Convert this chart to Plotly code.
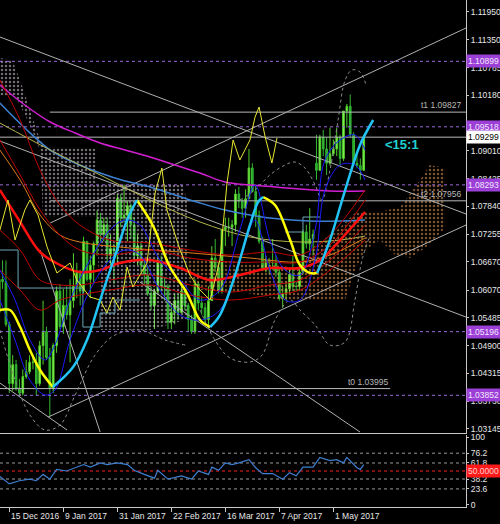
import plotly.graph_objects as go

# ---------------- price data (daily bars) ----------------
opens = [1.0560,1.0630,1.0625,1.0535,1.0410,1.0450,1.0400,1.0390,1.0425,1.0435,
         1.0455,1.0455,1.0410,1.0490,1.0520,1.0465,1.0400,1.0490,1.0605,1.0530,
         1.0575,1.0555,1.0585,1.0615,1.0645,1.0605,1.0710,1.0630,1.0660,1.0705,
         1.0755,1.0725,1.0745,1.0680,1.0695,1.0690,1.0800,1.0760,1.0765,1.0785,
         1.0745,1.0680,1.0700,1.0660,1.0640,1.0600,1.0575,1.0605,1.0670,1.0615,
         1.0615,1.0540,1.0560,1.0585,1.0560,1.0605,1.0575,1.0545,1.0520,1.0620,
         1.0580,1.0570,1.0545,1.0585,1.0675,1.0655,1.0605,1.0735,1.0740,1.0740,
         1.0745,1.0810,1.0795,1.0780,1.0800,1.0865,1.0815,1.0765,1.0710,1.0650,
         1.0670,1.0665,1.0665,1.0645,1.0590,1.0600,1.0610,1.0640,1.0615,1.0615,
         1.0645,1.0730,1.0705,1.0715,1.0875,1.0860,1.0930,1.0905,1.0875,1.0895,
         1.0905,1.0930,1.0885,1.0985,1.0995,1.0935,1.0875,1.0870,1.0860]
highs = [1.0640,1.0670,1.0670,1.0540,1.0470,1.0460,1.0420,1.0440,1.0460,1.0470,
         1.0470,1.0475,1.0500,1.0585,1.0530,1.0485,1.0495,1.0615,1.0620,1.0610,
         1.0615,1.0630,1.0685,1.0665,1.0650,1.0720,1.0710,1.0680,1.0710,1.0775,
         1.0770,1.0760,1.0760,1.0725,1.0705,1.0810,1.0810,1.0830,1.0795,1.0790,
         1.0760,1.0725,1.0710,1.0670,1.0660,1.0615,1.0610,1.0680,1.0680,1.0635,
         1.0620,1.0580,1.0600,1.0600,1.0615,1.0615,1.0580,1.0555,1.0630,1.0625,
         1.0595,1.0580,1.0615,1.0700,1.0715,1.0665,1.0735,1.0760,1.0760,1.0755,
         1.0820,1.0825,1.0800,1.0820,1.0905,1.0875,1.0830,1.0775,1.0720,1.0680,
         1.0675,1.0715,1.0680,1.0655,1.0615,1.0625,1.0650,1.0680,1.0625,1.0660,
         1.0735,1.0745,1.0780,1.0735,1.0935,1.0935,1.0945,1.0930,1.0950,1.0925,
         1.0950,1.0935,1.0985,1.1000,1.1020,1.0940,1.0895,1.0885,1.0935]
lows = [1.0530,1.0610,1.0530,1.0390,1.0395,1.0395,1.0385,1.0385,1.0420,1.0430,
        1.0440,1.0385,1.0405,1.0450,1.0460,1.0340,1.0390,1.0475,1.0525,1.0515,
        1.0545,1.0455,1.0570,1.0590,1.0575,1.0600,1.0625,1.0590,1.0620,1.0680,
        1.0710,1.0710,1.0665,1.0660,1.0620,1.0665,1.0740,1.0750,1.0710,1.0715,
        1.0665,1.0660,1.0645,1.0620,1.0595,1.0565,1.0525,1.0600,1.0605,1.0585,
        1.0525,1.0525,1.0535,1.0545,1.0560,1.0565,1.0520,1.0515,1.0515,1.0565,
        1.0555,1.0535,1.0525,1.0585,1.0645,1.0600,1.0600,1.0700,1.0720,1.0700,
        1.0730,1.0780,1.0760,1.0760,1.0800,1.0815,1.0740,1.0705,1.0650,1.0645,
        1.0640,1.0650,1.0635,1.0585,1.0570,1.0585,1.0600,1.0605,1.0605,1.0605,
        1.0640,1.0695,1.0690,1.0680,1.0840,1.0860,1.0890,1.0850,1.0870,1.0890,
        1.0890,1.0870,1.0880,1.0950,1.0930,1.0870,1.0865,1.0840,1.0860]
closes = [1.0630,1.0625,1.0535,1.0410,1.0450,1.0400,1.0390,1.0425,1.0435,1.0455,
          1.0455,1.0410,1.0490,1.0520,1.0465,1.0400,1.0490,1.0605,1.0530,1.0575,
          1.0555,1.0585,1.0615,1.0645,1.0605,1.0710,1.0630,1.0660,1.0705,1.0755,
          1.0725,1.0745,1.0680,1.0695,1.0690,1.0800,1.0760,1.0765,1.0785,1.0745,
          1.0680,1.0700,1.0660,1.0640,1.0600,1.0575,1.0605,1.0670,1.0615,1.0615,
          1.0540,1.0560,1.0585,1.0560,1.0605,1.0575,1.0545,1.0520,1.0620,1.0580,
          1.0570,1.0545,1.0585,1.0675,1.0655,1.0605,1.0735,1.0740,1.0740,1.0745,
          1.0810,1.0795,1.0780,1.0800,1.0865,1.0815,1.0765,1.0710,1.0650,1.0670,
          1.0665,1.0665,1.0645,1.0590,1.0600,1.0610,1.0640,1.0615,1.0615,1.0645,
          1.0730,1.0705,1.0715,1.0725,1.0860,1.0930,1.0905,1.0875,1.0895,1.0905,
          1.0930,1.0885,1.0985,1.0995,1.0935,1.0875,1.0870,1.0860,1.0930]
bars = list(range(len(opens)))

date_tick_bars = [3, 19, 35, 51, 67, 83, 99]
date_tick_labels = ["15 Dec 2016", "9 Jan 2017", "31 Jan 2017", "22 Feb 2017",
                    "16 Mar 2017", "7 Apr 2017", "1 May 2017"]

# right-axis price ticks (1.09595 is hidden behind a level label in the original)
price_ticks = [1.11950, 1.11350, 1.10765, 1.10180, 1.09010, 1.08425, 1.07840,
               1.07255, 1.06670, 1.06070, 1.05485, 1.04900, 1.04315, 1.03730, 1.03145]

purple_levels = [1.10899, 1.09518, 1.08293, 1.05196, 1.03852]
bid_price = 1.09299
t1_level, t1_start = 1.09827, 15.0
t2_level, t2_start = 1.07956, 15.0
t0_level, t0_end = 1.03995, 115.8

# trend lines: (bar0, price0, bar1, price1)
trend_lines = [
    (0.2, 1.11413, 138.3, 1.07678),
    (0.2, 1.09218, 138.3, 1.05504),
    (14.5, 1.03394, 138.3, 1.07446),
    (15.1, 1.07488, 138.3, 1.11602),
    (41.7, 1.06243, 106.9, 1.03078),
    (12.1, 1.06918, 29.9, 1.03078),
    (0.2, 1.04112, 20.1, 1.03120),
]

# Ichimoku: kijun steps and cloud spans
kijun_a_x = [0.2, 5.6, 5.6, 24.8, 24.8, 29.9, 29.9, 34.3, 34.3, 41.7]
kijun_a_y = [1.06918, 1.06918, 1.06116, 1.06116, 1.05293, 1.05293, 1.05589, 1.05589, 1.05863, 1.05863]
kijun_b_x = [84.7, 90.0, 90.0, 95.1]
kijun_b_y = [1.07298, 1.07298, 1.07614, 1.07614]
thistle_top_x = [0.2, 3.8, 6.2, 9.1, 12.1, 13.6, 28.4, 29.0, 54.5, 55.6]
thistle_top_y = [1.10969, 1.10927, 1.10505, 1.09872, 1.09239, 1.09091, 1.09070, 1.08332, 1.08290, 1.07973]
thistle_bot_x = [0.2, 4.7, 9.1, 12.1, 13.0, 29.0, 29.9, 44.7, 55.1, 55.6]
thistle_bot_y = [1.10188, 1.10188, 1.09555, 1.09028, 1.07614, 1.07614, 1.05230, 1.05230, 1.05441, 1.05441]
sandy_top_x = [55.6, 72.2, 89.1, 93.6, 99.5, 105.4, 112.8, 118.8, 124.7, 127.6, 132.1]
sandy_top_y = [1.06749, 1.06665, 1.06538, 1.07024, 1.07298, 1.07699, 1.07720, 1.07826, 1.08395, 1.08712, 1.08648]
sandy_bot_x = [55.6, 59.5, 72.2, 83.2, 95.1, 102.5, 105.4, 108.4, 112.8, 117.3, 121.7, 126.2, 132.1]
sandy_bot_y = [1.06285, 1.06074, 1.06032, 1.05863, 1.05863, 1.05863, 1.06496, 1.06918, 1.07129, 1.06813, 1.06749, 1.06960, 1.07382]

# moving averages
ma_magenta_x = [0.2, 7.6, 15.1, 22.5, 29.9, 37.3, 44.7, 52.1, 59.5, 66.9, 74.3, 81.7, 89.1, 98.0, 108.4]
ma_magenta_y = [1.10400, 1.09978, 1.09619, 1.09387, 1.09176, 1.09028, 1.08880, 1.08712, 1.08543, 1.08353, 1.08290, 1.08248, 1.08205, 1.08163, 1.08163]
ma_steel_x = [0.2, 7.6, 15.1, 22.5, 29.9, 37.3, 44.7, 52.1, 59.5, 66.9, 74.3, 83.2, 92.1, 101.0, 108.4]
ma_steel_y = [1.10020, 1.09492, 1.09028, 1.08754, 1.08543, 1.08374, 1.08248, 1.08079, 1.07910, 1.07762, 1.07657, 1.07572, 1.07530, 1.07530, 1.07551]
ma_khaki_x = [0.2, 15.1, 29.9, 44.7, 59.5, 74.3, 89.1, 101.0, 108.4]
ma_khaki_y = [1.09598, 1.09028, 1.08501, 1.07973, 1.07509, 1.07193, 1.07087, 1.07129, 1.07213]
ma_orange_x = [0.2, 6.2, 12.1, 18.0, 23.9, 38.8, 53.6, 74.3, 89.1, 98.0, 108.4]
ma_orange_y = [1.09028, 1.08395, 1.07657, 1.07235, 1.07087, 1.06960, 1.06876, 1.06749, 1.06665, 1.06813, 1.07171]
red_main_x = [0.2, 6.2, 12.1, 18.0, 23.9, 29.9, 35.8, 44.7, 53.6, 62.5, 71.3, 80.2, 89.1, 95.1, 101.0, 108.4]
red_main_y = [1.08184, 1.07509, 1.06876, 1.06602, 1.06454, 1.06496, 1.06644, 1.06707, 1.06538, 1.06285, 1.06391, 1.06538, 1.06538, 1.06707, 1.07129, 1.07720]
red_thin_x = [0.2, 6.2, 12.1, 18.0, 23.9, 32.8, 44.7, 56.5, 68.4, 80.2, 89.1, 98.0, 108.4]
red_thin_1 = [1.09239, 1.08501, 1.07762, 1.07235, 1.06918, 1.06813, 1.06918, 1.06749, 1.06665, 1.06665, 1.06665, 1.07024, 1.07973]
red_thin_2 = [1.07340, 1.06918, 1.06285, 1.06180, 1.06180, 1.06285, 1.06391, 1.06180, 1.06032, 1.06180, 1.06285, 1.06707, 1.07446]
red_thin_3 = [1.10505, 1.09661, 1.08606, 1.07868, 1.07446, 1.07129, 1.07066, 1.06918, 1.06813, 1.06876, 1.06813, 1.07235, 1.08184]
red_thin_4 = [1.06496, 1.06074, 1.05652, 1.05863, 1.05969, 1.06074, 1.06180, 1.05969, 1.05863, 1.05969, 1.06074, 1.06496, 1.07129]
blue_x = [0.2, 4.7, 9.1, 13.6, 16.5, 21.0, 26.9, 32.8, 37.3, 41.7, 47.6, 53.6, 59.5, 65.4, 71.3, 75.8, 80.2, 84.7, 89.1, 93.6, 96.5, 101.0, 105.4, 108.4]
blue_upper = [1.06496, 1.05863, 1.05019, 1.04597, 1.04913, 1.05863, 1.06707, 1.07340, 1.07551, 1.07446, 1.06707, 1.06285, 1.05863, 1.06074, 1.07340, 1.08288, 1.07129, 1.06496, 1.06391, 1.07340, 1.08817, 1.09239, 1.09344, 1.09028]
blue_lower = [1.05863, 1.05019, 1.04173, 1.03859, 1.03964, 1.05019, 1.06074, 1.06707, 1.06918, 1.06813, 1.06074, 1.05547, 1.05441, 1.05652, 1.06707, 1.07551, 1.06496, 1.05863, 1.05863, 1.06707, 1.08184, 1.08712, 1.08712, 1.08395]
thin_yellow_x = [0.2, 2.6, 4.7, 7.6, 9.1, 11.5, 14.2, 17.1, 21.0, 23.0, 26.9, 29.9, 31.9, 33.7, 35.8, 37.9, 39.6, 43.8, 46.2, 48.2, 49.7, 53.6, 56.5, 59.5, 62.5, 65.4, 67.5, 69.3, 71.3, 74.3, 75.8, 77.0, 78.8, 80.8, 82.3]
thin_yellow_y = [1.07340, 1.07973, 1.07129, 1.07762, 1.07973, 1.07657, 1.06981, 1.06433, 1.06644, 1.06285, 1.05926, 1.05863, 1.05589, 1.05926, 1.05652, 1.06559, 1.06137, 1.06644, 1.08121, 1.08648, 1.07762, 1.06918, 1.06391, 1.06074, 1.05863, 1.06707, 1.08332, 1.09239, 1.08817, 1.09239, 1.09724, 1.09935, 1.09302, 1.08754, 1.09281]
# coloured smoothed average: falling (yellow) / rising (sky blue) legs
hull_yellow = [
    ([0.2, 3.2, 6.2, 9.1, 12.1, 15.9], [1.05652, 1.05652, 1.05294, 1.04808, 1.04386, 1.04027]),
    ([40.8, 45.6, 50.6, 55.6, 59.5, 62.5], [1.07973, 1.07425, 1.06559, 1.06011, 1.05441, 1.05294]),
    ([78.2, 81.7, 86.2, 89.1, 92.1, 94.2], [1.08036, 1.07868, 1.07129, 1.06602, 1.06433, 1.06433]),
]
hull_cyan = [
    ([15.9, 21.9, 26.0, 29.9, 34.9, 37.9, 40.8], [1.04027, 1.04449, 1.05019, 1.05863, 1.06918, 1.07551, 1.07973]),
    ([62.5, 65.4, 69.9, 74.3, 76.7, 78.2], [1.05294, 1.05547, 1.06391, 1.07446, 1.07931, 1.08036]),
    ([94.2, 98.0, 102.5, 106.9, 110.8], [1.06433, 1.07129, 1.08184, 1.09134, 1.09661]),
]
band_upper_x = [71.3, 75.8, 80.2, 84.7, 87.6, 90.6, 93.6, 95.6, 98.0, 100.4, 102.5, 104.5, 106.9, 108.7]
band_upper_y = [1.07973, 1.08184, 1.08501, 1.08712, 1.08775, 1.08648, 1.08290, 1.07973, 1.08606, 1.09661, 1.10505, 1.10716, 1.10674, 1.10400]
band_lower_x = [59.5, 63.9, 68.4, 74.3, 77.9, 81.7, 86.2, 89.1, 93.6, 98.0, 102.5, 105.4, 107.5, 109.9]
band_lower_y = [1.05652, 1.05019, 1.04639, 1.04555, 1.04703, 1.05441, 1.05863, 1.05652, 1.05336, 1.04913, 1.04977, 1.05863, 1.06707, 1.07235]
band_lower2_x = [0.2, 4.7, 9.1, 13.6, 18.0, 22.5, 28.4, 34.3, 41.7, 49.1, 55.1]
band_lower2_y = [1.05230, 1.04175, 1.03437, 1.03120, 1.03226, 1.03859, 1.04702, 1.05124, 1.05230, 1.05019, 1.04913]

# oscillator (sub window)
osc_x = [0, 3, 6, 9, 11, 13, 15, 17, 20, 24, 25, 27, 30, 32, 35, 38, 40, 43, 46, 47, 50, 54, 57, 59,
         62, 63, 65, 67, 69, 71, 74, 76, 78, 81, 84, 86, 88, 90, 93, 95, 98, 100, 102, 103, 106, 107, 108]
osc_y = [42.9, 31, 35.7, 38, 35.7, 45, 38, 52.4, 50, 57, 59.5, 55.7, 62, 59.5, 62, 59.5, 51, 45, 39.5, 51,
         38, 42.9, 38, 50, 45, 55.7, 51, 62, 59.5, 62, 66.7, 54.8, 46.2, 46.2, 38, 47.6, 42.9, 55.7, 55.7,
         70, 65.2, 66.7, 62, 70, 54.8, 52.4, 59.5]
osc_levels = [76.2, 61.8, 38.2, 23.6]
osc_mid = 50
osc_ticks = [0, 23.6, 38.2, 61.8, 76.2, 100]

# ---------------- figure ----------------
FONT = "Liberation Sans, Arial, sans-serif"
FS = 8.5
X_RANGE = [0.24, 138.3]
Y_RANGE = [1.03058, 1.12193]

fig = go.Figure()
M = dict(xaxis="x", yaxis="y", hoverinfo="skip", showlegend=False)

def line(x, y, color, width=1, dash="solid", shape="linear", **kw):
    fig.add_trace(go.Scatter(x=x, y=y, mode="lines",
                             line=dict(color=color, width=width, dash=dash, shape=shape,
                                       smoothing=1.0 if shape == "spline" else None), **M, **kw))

def cloud(tx, ty, bx, by, color):
    fig.add_trace(go.Scatter(
        x=tx + bx[::-1], y=ty + by[::-1], mode="lines", fill="toself",
        line=dict(width=0, color="rgba(0,0,0,0)"), fillcolor="rgba(0,0,0,0)",
        fillpattern=dict(shape=".", fgcolor=color, bgcolor="rgba(0,0,0,0)", size=4, solidity=0.3),
        **M))

fig.add_trace(go.Candlestick(
    x=bars, open=opens, high=highs, low=lows, close=closes,
    increasing=dict(line=dict(color="#4fd12a", width=1), fillcolor="#93f55e"),
    decreasing=dict(line=dict(color="#33b833", width=1), fillcolor="#2aa52a"),
    whiskerwidth=0, xaxis="x", yaxis="y", hoverinfo="skip", showlegend=False))

cloud(thistle_top_x, thistle_top_y, thistle_bot_x, thistle_bot_y, "#e6d6e6")
cloud(sandy_top_x, sandy_top_y, sandy_bot_x, sandy_bot_y, "#f4a460")

# horizontal levels
for lv in purple_levels:
    line([X_RANGE[0], X_RANGE[1]], [lv, lv], "#9a6ad8", 1, "3px,3px")
line([X_RANGE[0], X_RANGE[1]], [bid_price, bid_price], "#b8b8b8", 1)
line([t1_start, X_RANGE[1]], [t1_level, t1_level], "#b8b8b8", 1)
line([t2_start, X_RANGE[1]], [t2_level, t2_level], "#b8b8b8", 1)
line([X_RANGE[0], t0_end], [t0_level, t0_level], "#b8b8b8", 1)

for x0, y0, x1, y1 in trend_lines:
    line([x0, x1], [y0, y1], "#b0b0b0", 1)

# dashed bands
line(band_upper_x, band_upper_y, "#8c8c8c", 1, "3px,3px", "spline")
line(band_lower_x, band_lower_y, "#8c8c8c", 1, "3px,3px", "spline")
line(band_lower2_x, band_lower2_y, "#8c8c8c", 1, "3px,3px", "spline")

# kijun steps
line(kijun_a_x, kijun_a_y, "#6aa6b8", 1)
line(kijun_b_x, kijun_b_y, "#6aa6b8", 1)

# moving averages
line(ma_magenta_x, ma_magenta_y, "#d21ed2", 1.5, shape="spline")
line(ma_steel_x, ma_steel_y, "#3c80d2", 1.5, shape="spline")
line(ma_khaki_x, ma_khaki_y, "#b4b450", 1, shape="spline")
line(ma_orange_x, ma_orange_y, "#e07a1a", 1, shape="spline")
for ry in (red_thin_1, red_thin_2, red_thin_3, red_thin_4):
    line(red_thin_x, ry, "#c00000", 1, shape="spline")
line(red_main_x, red_main_y, "#ff1010", 2.5, shape="spline")
line(blue_x, blue_upper, "#1a1aff", 1, shape="spline")
line(blue_x, blue_lower, "#1a1aff", 1, shape="spline")
line(thin_yellow_x, thin_yellow_y, "#e6e632", 1)
for hx, hy in hull_yellow:
    line(hx, hy, "#ffff00", 2.5, shape="spline")
for hx, hy in hull_cyan:
    line(hx, hy, "#22c4f5", 2.5, shape="spline")

# oscillator sub window
S = dict(xaxis="x2", yaxis="y2", hoverinfo="skip", showlegend=False, mode="lines")
for lv in osc_levels:
    fig.add_trace(go.Scatter(x=X_RANGE, y=[lv, lv], line=dict(color="#9a9a9a", width=1, dash="3px,3px"), **S))
fig.add_trace(go.Scatter(x=X_RANGE, y=[osc_mid, osc_mid], line=dict(color="#ff2020", width=1, dash="3px,3px"), **S))
fig.add_trace(go.Scatter(x=osc_x, y=osc_y, line=dict(color="#3f7fd0", width=1.2), **S))

annotations = []
for lv in purple_levels:
    annotations.append(dict(x=1, xref="paper", y=lv, yref="y", xanchor="left", yanchor="middle",
                            text=f"{lv:.5f}", showarrow=False, bgcolor="#9b3fd6",
                            font=dict(family=FONT, size=FS, color="#f2e6ff"), borderpad=1))
annotations.append(dict(x=1, xref="paper", y=bid_price, yref="y", xanchor="left", yanchor="middle",
                        text=f"{bid_price:.5f}", showarrow=False, bgcolor="#ffffff",
                        font=dict(family=FONT, size=FS, color="#000000"), borderpad=1))
annotations.append(dict(x=1, xref="paper", y=osc_mid, yref="y2", xanchor="left", yanchor="middle",
                        text="50.0000", showarrow=False, bgcolor="#ff1a1a",
                        font=dict(family=FONT, size=FS, color="#ffd0d0"), borderpad=1))
annotations.append(dict(x=X_RANGE[1] - 0.8, y=t1_level, xref="x", yref="y", xanchor="right", yanchor="bottom",
                        text=f"t1 {t1_level:.5f}", showarrow=False,
                        font=dict(family=FONT, size=FS, color="#b8b8b8")))
annotations.append(dict(x=X_RANGE[1] - 0.8, y=t2_level, xref="x", yref="y", xanchor="right", yanchor="bottom",
                        text=f"t2 {t2_level:.5f}", showarrow=False,
                        font=dict(family=FONT, size=FS, color="#b8b8b8")))
annotations.append(dict(x=t0_end, y=t0_level, xref="x", yref="y", xanchor="right", yanchor="bottom",
                        text=f"t0 {t0_level:.5f}", showarrow=False,
                        font=dict(family=FONT, size=FS, color="#b8b8b8")))
annotations.append(dict(x=119.3, y=1.09134, xref="x", yref="y", xanchor="center", yanchor="middle",
                        text="<b>&lt;15:1</b>", showarrow=False,
                        font=dict(family=FONT, size=13, color="#20d0d0")))
for b, lab in zip(date_tick_bars, date_tick_labels):
    annotations.append(dict(x=b, xref="x2", y=0, yref="paper", xanchor="left", yanchor="top",
                            yshift=-2, xshift=0, text=lab, showarrow=False,
                            font=dict(family=FONT, size=FS, color="#e6e6e6")))

fig.update_layout(
    width=500, height=524,
    margin=dict(l=0, r=34, t=0, b=17, pad=0),
    paper_bgcolor="#000000", plot_bgcolor="#000000",
    showlegend=False,
    annotations=annotations,
    xaxis=dict(domain=[0, 1], range=X_RANGE, showticklabels=False, showgrid=False, zeroline=False,
               showline=True, linecolor="#c8c8c8", linewidth=1, anchor="y",
               rangeslider=dict(visible=False), fixedrange=True),
    yaxis=dict(domain=[0.146, 1], range=Y_RANGE, side="right", showgrid=False, zeroline=False,
               tickvals=price_ticks, ticktext=[f"{v:.5f}" for v in price_ticks],
               ticks="outside", ticklen=2, tickcolor="#c8c8c8",
               tickfont=dict(family=FONT, size=FS, color="#e6e6e6"),
               showline=True, linecolor="#c8c8c8", linewidth=1, anchor="x", automargin=False),
    xaxis2=dict(domain=[0, 1], range=X_RANGE, matches="x", anchor="y2", showgrid=False, zeroline=False,
                tickvals=date_tick_bars, showticklabels=False, ticks="outside", ticklen=4,
                tickcolor="#c8c8c8", showline=True, linecolor="#c8c8c8", linewidth=1,
                rangeslider=dict(visible=False)),
    yaxis2=dict(domain=[0, 0.142], range=[-3, 103], side="right", showgrid=False, zeroline=False,
                tickvals=osc_ticks, ticktext=[("%g" % v) for v in osc_ticks],
                ticks="outside", ticklen=2, tickcolor="#c8c8c8",
                tickfont=dict(family=FONT, size=FS, color="#e6e6e6"),
                showline=True, linecolor="#c8c8c8", linewidth=1, anchor="x2", automargin=False),
)

fig.write_html("out.html", config={"displayModeBar": False},
               post_script="document.body.style.margin='0';document.body.style.background='#000';")
